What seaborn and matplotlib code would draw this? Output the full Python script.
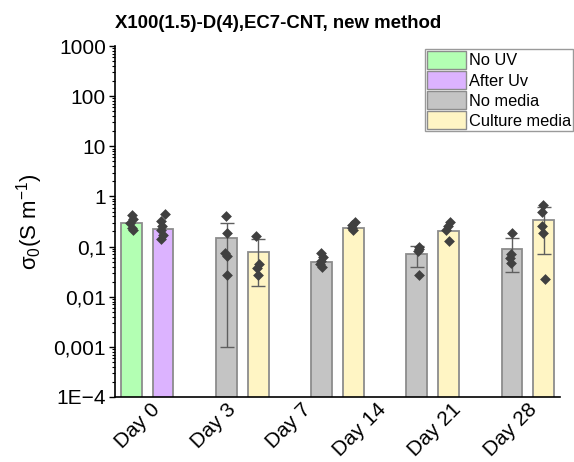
import numpy as np
import pandas as pd
import matplotlib
matplotlib.use("Agg")
import matplotlib.pyplot as plt
import seaborn as sns
from matplotlib.ticker import FixedLocator, LogLocator, NullFormatter, FixedFormatter

# ---------------- data ----------------
title = "X100(1.5)-D(4),EC7-CNT, new method"
conditions = ["No UV", "After Uv", "No media", "Culture media"]
colors = ["#b3ffb3", "#dcb3ff", "#c4c4c4", "#fff5c4"]

bar_ids = ["D0 No UV", "D0 After Uv", "D3 No media", "D3 Culture media",
           "D7 No media", "D14 Culture media", "D21 No media",
           "D21 Culture media", "D28 No media", "D28 Culture media"]
bar_condition = ["No UV", "After Uv", "No media", "Culture media", "No media",
                 "Culture media", "No media", "Culture media", "No media",
                 "Culture media"]
bar_means = [0.29, 0.22, 0.15, 0.079, 0.05, 0.24, 0.072, 0.20, 0.091, 0.34]
bar_sds = [np.nan, np.nan, 0.149, 0.063, np.nan, np.nan, 0.032, np.nan, 0.06, 0.27]

pts_d0_nouv = [0.42, 0.36, 0.30, 0.24, 0.21]
pts_d0_afteruv = [0.44, 0.33, 0.26, 0.21, 0.17, 0.14]
pts_d3_nomedia = [0.40, 0.19, 0.075, 0.065, 0.027]
pts_d3_culture = [0.16, 0.045, 0.037, 0.027]
pts_d7_nomedia = [0.075, 0.062, 0.052, 0.045, 0.040]
pts_d14_culture = [0.31, 0.27, 0.24, 0.21]
pts_d21_nomedia = [0.10, 0.09, 0.08, 0.027]
pts_d21_culture = [0.31, 0.26, 0.21, 0.13]
pts_d28_nomedia = [0.19, 0.07, 0.058, 0.048]
pts_d28_culture = [0.68, 0.50, 0.26, 0.19, 0.023]

tick_labels = ["Day 0", "Day 3", "Day 7", "Day 14", "Day 21", "Day 28"]
ytick_values = [1e-4, 1e-3, 1e-2, 1e-1, 1, 10, 100, 1000]
ytick_labels = ["1E\u22124", "0,001", "0,01", "0,1", "1", "10", "100", "1000"]

# ---------------- build tables ----------------
bars_df = pd.DataFrame({"bar": bar_ids, "condition": bar_condition,
                        "mean": bar_means, "sd": bar_sds})
all_pts = [pts_d0_nouv, pts_d0_afteruv, pts_d3_nomedia, pts_d3_culture,
           pts_d7_nomedia, pts_d14_culture, pts_d21_nomedia, pts_d21_culture,
           pts_d28_nomedia, pts_d28_culture]
pts_df = pd.DataFrame([(b, v) for b, p in zip(bar_ids, all_pts) for v in p],
                      columns=["bar", "value"])

# category order with empty spacer slots between pairs
order = []
for i in range(0, len(bar_ids), 2):
    if i > 0:
        order.append(f"_gap{i}")
    order += bar_ids[i:i + 2]

# ---------------- style ----------------
sns.set_theme(style="ticks")
plt.rcParams["font.family"] = ["Liberation Sans", "DejaVu Sans"]
plt.rcParams["mathtext.fontset"] = "custom"
plt.rcParams["mathtext.rm"] = "Liberation Sans"
plt.rcParams["mathtext.it"] = "Liberation Sans:italic"
plt.rcParams["mathtext.default"] = "regular"
plt.rcParams["text.color"] = "black"
plt.rcParams["axes.labelcolor"] = "black"
plt.rcParams["xtick.color"] = "black"
plt.rcParams["ytick.color"] = "black"

np.random.seed(3)
fig = plt.figure(figsize=(5.74, 4.62), dpi=100)
ax = fig.add_axes([115 / 574, 1 - 397 / 462, (560 - 115) / 574, (397 - 46) / 462])

sns.barplot(data=bars_df, x="bar", y="mean", hue="condition", order=order,
            hue_order=conditions, palette=colors, saturation=1, dodge=False,
            width=0.65, errorbar=None, edgecolor="#8c8c8c", linewidth=1.3, ax=ax)

pos = [order.index(b) for b in bar_ids]
ax.errorbar(pos, bar_means, yerr=bar_sds, fmt="none", ecolor="#5f5f5f",
            elinewidth=1.0, capsize=5, capthick=1.0, zorder=3)

sns.stripplot(data=pts_df, x="bar", y="value", order=order, jitter=0.08,
              marker="D", color="#404040", size=5.5, linewidth=0,
              ax=ax, zorder=4, legend=False)

ax.set_yscale("log")
ax.set_ylim(1e-4, 1000)
ax.set_xlim(-0.52, len(order) - 1 + 0.52)

ax.yaxis.set_major_locator(FixedLocator(ytick_values))
ax.yaxis.set_major_formatter(FixedFormatter(ytick_labels))
ax.yaxis.set_minor_locator(LogLocator(base=10, subs=np.arange(2, 10), numticks=20))
ax.yaxis.set_minor_formatter(NullFormatter())
ax.tick_params(axis="y", which="major", length=4.5, width=1, direction="out",
               labelsize=15, colors="black", pad=2)
ax.tick_params(axis="y", which="minor", length=2.3, width=0.8, direction="out")

ax.set_xticks(np.linspace(1.03, 12.9, len(tick_labels)))
ax.set_xticklabels(tick_labels, rotation=45, ha="right", fontsize=15)
ax.tick_params(axis="x", length=0, pad=2)

for s in ["top", "right"]:
    ax.spines[s].set_visible(False)
for s in ["left", "bottom"]:
    ax.spines[s].set_color("black")
    ax.spines[s].set_linewidth(1.2)

ax.set_xlabel("")
ax.set_ylabel("σ$_0$(S m$^{-1}$)", fontsize=16, labelpad=6, color="black")
ax.set_title(title, loc="left", fontsize=13.4, fontweight="bold", pad=13,
             color="black")

handles, labels = ax.get_legend_handles_labels()
leg = ax.legend(handles, labels, loc="upper left",
                bbox_to_anchor=(425 / 574, 1 - 49 / 462),
                bbox_transform=fig.transFigure,
                fontsize=11.8, frameon=True, fancybox=False, edgecolor="#9a9a9a",
                framealpha=1, handlelength=2.4, handleheight=1.3,
                labelspacing=0.14, handletextpad=0.18, borderpad=0.12,
                borderaxespad=0)
leg.get_frame().set_linewidth(1.0)
for t in leg.get_texts():
    t.set_color("black")
for h in leg.legend_handles:
    h.set_linewidth(1.0)

fig.savefig("out.png", dpi=100)
